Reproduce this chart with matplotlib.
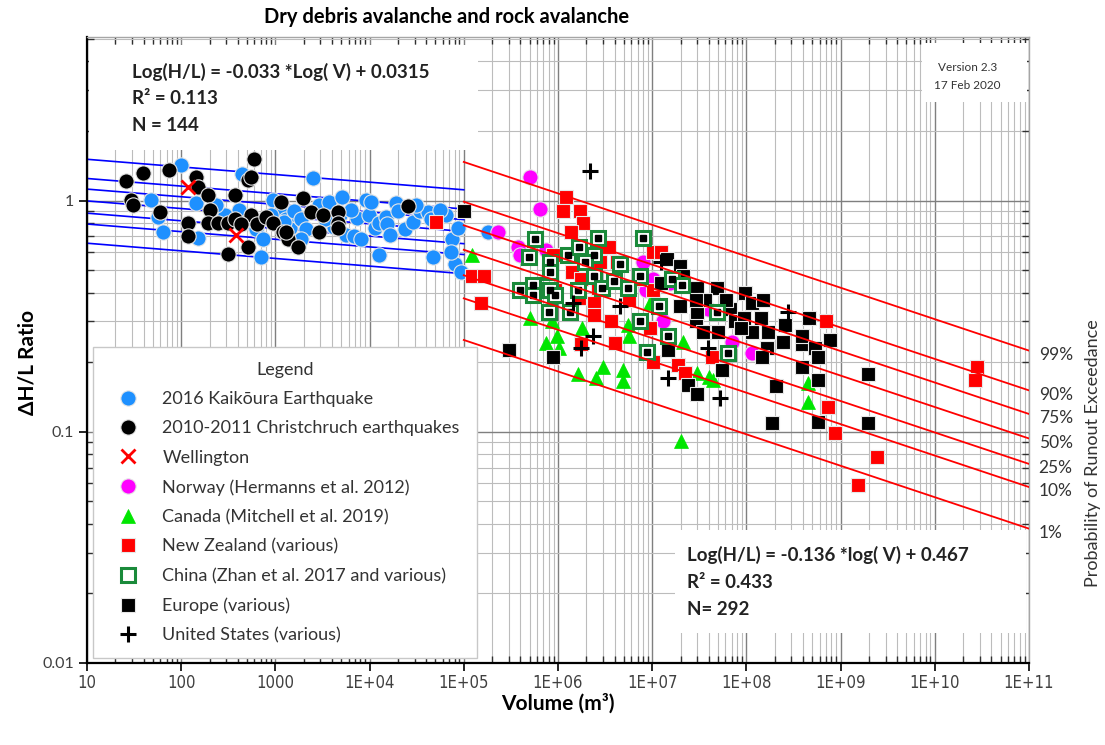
import numpy as np
import matplotlib
matplotlib.use('Agg')
import matplotlib.pyplot as plt
from matplotlib.patches import Rectangle
from matplotlib.ticker import LogLocator, NullFormatter

plt.rcParams['font.family'] = ['Lato', 'DejaVu Sans']

# log10 of volume (m3) and H/L ratio
kaikoura_logv = [1.68, 1.75, 1.81, 2.00, 2.16, 2.18, 2.65, 2.61, 2.69, 2.79, 2.85, 2.98, 3.06, 3.11, 3.16,
                 3.22, 3.09, 3.20, 3.27, 3.32, 3.40, 3.46, 3.57, 3.62, 3.71, 3.75, 3.83, 3.87, 3.91, 3.96,
                 3.99, 4.01, 4.06, 4.10, 4.10, 4.17, 4.19, 4.22, 4.28, 4.30, 4.38, 4.46, 4.54, 4.62, 4.65,
                 4.67, 4.81, 4.88, 4.91, 4.94, 4.97, 5.26, 2.87, 2.95, 2.47, 2.37, 3.27, 3.69, 3.80, 3.53,
                 4.49, 4.75, 4.86]
kaikoura_hl = [1.01, 0.85, 0.73, 1.43, 0.98, 0.69, 1.30, 0.91, 0.81, 0.75, 0.57, 1.01, 0.91, 0.83, 0.76,
               0.87, 0.81, 0.90, 0.83, 0.75, 1.25, 0.96, 0.99, 0.77, 1.04, 0.71, 0.70, 0.84, 0.68, 1.01,
               0.87, 0.99, 0.76, 0.80, 0.58, 0.85, 0.79, 0.71, 0.98, 0.90, 0.75, 0.81, 0.90, 0.89, 0.83,
               0.57, 0.87, 0.68, 0.53, 0.76, 0.49, 0.73, 0.68, 0.87, 0.87, 0.96, 0.68, 0.87, 0.91, 0.83,
               0.96, 0.91, 0.60]

christchurch_logv = [1.41, 1.60, 1.87, 1.47, 1.49, 1.78, 2.16, 2.18, 2.29, 2.31, 2.28, 2.39, 2.07, 2.07,
                     2.50, 2.57, 2.57, 2.50, 2.71, 2.77, 2.71, 2.74, 2.74, 2.81, 2.90, 2.97, 3.06, 3.08,
                     3.13, 3.24, 3.29, 3.38, 3.46, 3.51, 3.67, 3.67, 3.66, 4.41, 3.11, 2.63]
christchurch_hl = [1.21, 1.32, 1.35, 1.01, 0.96, 0.89, 1.27, 1.15, 1.06, 0.91, 0.80, 0.80, 0.80, 0.70,
                   0.80, 1.06, 0.83, 0.59, 0.63, 1.52, 1.23, 1.27, 0.87, 0.79, 0.85, 0.80, 0.99, 0.73,
                   0.68, 0.63, 1.03, 0.89, 0.73, 0.87, 0.89, 0.80, 0.76, 0.95, 0.73, 0.79]

wellington_logv = [2.07, 2.58]
wellington_hl = [1.14, 0.71]

norway_logv = [5.70, 5.81, 5.36, 5.58, 5.60, 5.87, 6.90, 7.01, 6.93, 7.19, 7.12, 7.59, 7.85, 8.06]
norway_hl = [1.27, 0.92, 0.73, 0.63, 0.58, 0.61, 0.54, 0.46, 0.41, 0.44, 0.30, 0.34, 0.245, 0.22]

canada_logv = [5.09, 5.70, 5.87, 5.99, 6.01, 6.21, 6.26, 6.40, 6.48, 6.69, 6.69, 6.75, 7.33, 7.48, 7.60,
               7.65, 8.65, 8.65, 6.98, 6.74, 7.31, 5.94]
canada_hl = [0.58, 0.31, 0.243, 0.26, 0.23, 0.177, 0.28, 0.171, 0.19, 0.185, 0.165, 0.26, 0.245, 0.18,
             0.173, 0.168, 0.163, 0.134, 0.36, 0.29, 0.091, 0.30]

nz_logv = [4.70, 5.09, 5.21, 5.18, 6.08, 6.05, 6.23, 6.27, 6.14, 5.95, 6.15, 6.24, 6.54, 7.01, 7.09,
           6.45, 6.63, 5.97, 6.22, 6.38, 6.38, 6.56, 6.61, 6.24, 6.98, 7.01, 7.27, 7.35, 7.01, 6.75,
           7.64, 8.84, 8.87, 8.94, 9.39, 9.18, 10.45, 10.43, 6.42, 6.87]
nz_hl = [0.81, 0.47, 0.47, 0.36, 1.04, 0.90, 0.90, 0.80, 0.73, 0.58, 0.49, 0.46, 0.63, 0.60, 0.60,
         0.54, 0.54, 0.41, 0.38, 0.36, 0.32, 0.30, 0.243, 0.24, 0.28, 0.20, 0.195, 0.18, 0.41, 0.37,
         0.21, 0.30, 0.128, 0.099, 0.078, 0.059, 0.19, 0.168, 0.42, 0.46]

china_logv = [5.76, 6.43, 6.90, 5.69, 6.11, 6.22, 6.38, 6.29, 6.66, 5.92, 5.92, 6.38, 6.87, 5.60, 5.74,
              5.92, 5.97, 6.21, 6.47, 6.59, 6.74, 7.21, 7.32, 7.07, 5.90, 6.13, 6.87, 7.17, 7.69, 6.95,
              7.81, 5.74]
china_hl = [0.68, 0.69, 0.69, 0.57, 0.58, 0.63, 0.58, 0.54, 0.53, 0.54, 0.49, 0.47, 0.47, 0.41, 0.43,
            0.41, 0.39, 0.41, 0.42, 0.45, 0.42, 0.46, 0.43, 0.35, 0.33, 0.33, 0.30, 0.26, 0.33, 0.222,
            0.22, 0.39]

europe_logv = [5.00, 5.48, 5.95, 7.16, 7.30, 7.33, 7.48, 7.69, 7.99, 8.06, 8.18, 8.66, 8.89, 7.09, 7.30,
               7.46, 7.48, 7.54, 7.83, 7.88, 7.70, 8.06, 8.23, 8.39, 8.59, 8.59, 8.73, 8.76, 7.97, 7.17,
               7.38, 7.48, 7.74, 8.31, 8.76, 8.59, 9.29, 8.27, 8.76, 9.29, 8.22, 8.17, 7.56, 7.78, 7.94,
               7.46, 8.15, 8.41]
europe_hl = [0.90, 0.226, 0.21, 0.56, 0.52, 0.47, 0.42, 0.42, 0.40, 0.36, 0.37, 0.31, 0.25, 0.44, 0.35,
             0.30, 0.33, 0.27, 0.34, 0.30, 0.27, 0.27, 0.27, 0.245, 0.24, 0.26, 0.23, 0.21, 0.31, 0.226,
             0.16, 0.145, 0.185, 0.157, 0.168, 0.19, 0.177, 0.109, 0.11, 0.109, 0.23, 0.21, 0.37, 0.37,
             0.28, 0.37, 0.31, 0.29]

us_logv = [6.34, 6.16, 6.37, 6.24, 6.66, 7.09, 7.17, 7.72, 7.59, 8.44]
us_hl = [1.34, 0.36, 0.26, 0.23, 0.35, 0.54, 0.171, 0.14, 0.23, 0.33]

# regression lines: log(H/L) = slope*log(V) + intercept, plus percentile offsets (log units)
left_slope, left_icpt = -0.033, 0.0315
left_offsets = [0.18, 0.097, 0.051, 0.0, -0.053, -0.10, -0.183]
right_slope, right_icpt = -0.136, 0.467
right_offsets = [0.38, 0.208, 0.106, 0.0, -0.11, -0.21, -0.39]
pct_labels = ['99%', '90%', '75%', '50%', '25%', '10%', '1%']

x_ticks = [1e1, 1e2, 1e3, 1e4, 1e5, 1e6, 1e7, 1e8, 1e9, 1e10, 1e11]
x_tick_labels = ['10', '100', '1000', '1E+04', '1E+05', '1E+06', '1E+07', '1E+08', '1E+09', '1E+10', '1E+11']
y_ticks = [0.01, 0.1, 1]
y_tick_labels = ['0.01', '0.1', '1']

fig = plt.figure(figsize=(11.05, 7.45), dpi=100)
ax = fig.add_axes([0.0787, 0.1101, 0.8525, 0.8403])
ax.set_xscale('log')
ax.set_yscale('log')
ax.set_axisbelow(True)

ax.set_xticks(x_ticks, labels=x_tick_labels, fontsize=12, color='#404040',
              family=['Liberation Sans Narrow', 'DejaVu Sans'], stretch='condensed')
ax.set_yticks(y_ticks, labels=y_tick_labels, fontsize=11.5, color='#404040')
ax.xaxis.set_minor_locator(LogLocator(base=10, subs=np.arange(2, 10), numticks=20))
ax.xaxis.set_minor_formatter(NullFormatter())
ax.yaxis.set_minor_locator(LogLocator(base=10, subs=np.arange(2, 10), numticks=20))
ax.yaxis.set_minor_formatter(NullFormatter())
ax.set_xlim(10, 1e11)
ax.set_ylim(0.01, 5.1)

ax.grid(which='major', color='#7f7f7f', lw=1.0)
ax.grid(which='minor', color='#bcbcbc', lw=0.8)
ax.tick_params(which='major', direction='out', length=6, width=1.2, color='black')
ax.tick_params(which='minor', direction='in', length=5, width=1.0, color='#303030',
               top=True, right=True)
ax.tick_params(axis='x', pad=2)

for side in ['left', 'bottom']:
    ax.spines[side].set_color('black')
    ax.spines[side].set_linewidth(1.6)
for side in ['top', 'right']:
    ax.spines[side].set_color('#a6a6a6')
    ax.spines[side].set_linewidth(1.0)

# white text boxes covering the grid
for (x0, y0, w, h) in [(0.002, 0.8195, 0.413, 0.168), (0.624, 0.048, 0.373, 0.165),
                       (0.886, 0.896, 0.112, 0.094)]:
    ax.add_patch(Rectangle((x0, y0), w, h, transform=ax.transAxes, fc='white', ec='none', zorder=1))

# fit lines
v_left = np.array([1e1, 1e5])
for off in left_offsets:
    ax.plot(v_left, 10 ** (left_slope * np.log10(v_left) + left_icpt + off), color='#0000ff', lw=1.2, zorder=2)
v_right = np.array([1e5, 1e11])
for off in right_offsets:
    ax.plot(v_right, 10 ** (right_slope * np.log10(v_right) + right_icpt + off), color='#ff0000', lw=1.3, zorder=9)

edge = '#e6e6e6'


def pts(logv):
    return 10 ** np.array(logv)


ax.plot(pts(kaikoura_logv), kaikoura_hl, ls='none', marker='o', ms=11, mfc='#1e90ff', mec=edge, mew=0.8,
        zorder=3, label='2016 Kaikōura Earthquake')
ax.plot(pts(christchurch_logv), christchurch_hl, ls='none', marker='o', ms=11, mfc='black', mec=edge, mew=0.8,
        zorder=4, label='2010-2011 Christchruch earthquakes')
ax.plot(pts(wellington_logv), wellington_hl, ls='none', marker='x', ms=10, mec='#ff0000', mew=2,
        zorder=5, label='Wellington')
ax.plot(pts(norway_logv), norway_hl, ls='none', marker='o', ms=11, mfc='#ff00ff', mec=edge, mew=0.8,
        zorder=3, label='Norway (Hermanns et al. 2012)')
ax.plot(pts(canada_logv), canada_hl, ls='none', marker='^', ms=9.5, mfc='#00e600', mec='#00e600', mew=0.5,
        zorder=4, label='Canada (Mitchell et al. 2019)')
ax.plot(pts(nz_logv), nz_hl, ls='none', marker='s', ms=10.5, mfc='#ff0000', mec=edge, mew=0.8,
        zorder=5, label='New Zealand (various)')
ax.plot(pts(china_logv), china_hl, ls='none', marker='s', ms=10, mfc='white', mec='#1a8a3a', mew=2.2,
        zorder=7, label='China (Zhan et al. 2017 and various)')
ax.plot(pts(china_logv), china_hl, ls='none', marker='s', ms=4.5, mfc='black', mec='black', zorder=7.5)
ax.plot(pts(europe_logv), europe_hl, ls='none', marker='s', ms=10.5, mfc='black', mec=edge, mew=0.8,
        zorder=6, label='Europe (various)')
ax.plot(pts(us_logv), us_hl, ls='none', marker='+', ms=12, mec='black', mew=2.2,
        zorder=8, label='United States (various)')

leg = ax.legend(loc='lower left', bbox_to_anchor=(0.0064, 0.008, 0.408, 0.5), mode='expand',
                title='Legend', fontsize=13, title_fontsize=13, frameon=True, fancybox=False,
                edgecolor='#c8c8c8', framealpha=1, borderpad=0.8, labelspacing=0.74,
                handlelength=2.3, handletextpad=0.74, borderaxespad=0)
leg.get_frame().set_linewidth(1.0)
leg.set_zorder(20)
for t in leg.get_texts():
    t.set_color('#333333')
leg.get_title().set_color('#333333')

# equations
eq_style = dict(transform=ax.transAxes, fontsize=13.5, fontweight='bold', color='#222222', va='center', zorder=12)
ax.text(0.0478, 0.944, 'Log(H/L) = -0.033 *Log( V) + 0.0315', **eq_style)
ax.text(0.0478, 0.901, 'R² = 0.113', **eq_style)
ax.text(0.0478, 0.858, 'N = 144', **eq_style)
ax.text(0.637, 0.1725, 'Log(H/L) = -0.136 *log( V) + 0.467', **eq_style)
ax.text(0.637, 0.128, 'R² = 0.433', **eq_style)
ax.text(0.637, 0.0847, 'N= 292', **eq_style)

ax.text(0.935, 0.952, 'Version 2.3', transform=ax.transAxes, fontsize=8.5, ha='center', va='center',
        color='#333333', zorder=12)
ax.text(0.935, 0.922, '17 Feb 2020', transform=ax.transAxes, fontsize=8.5, ha='center', va='center',
        color='#333333', zorder=12)

# percentile labels at the right end of the red lines
for off, lab in zip(right_offsets, pct_labels):
    y_end = 10 ** (right_slope * 11 + right_icpt + off)
    ax.annotate(lab, xy=(1e11, y_end), xytext=(7, -3), textcoords='offset points', ha='left', va='center',
                fontsize=12.5, color='#333333', annotation_clip=False)

fig.text(0.989, 0.392, 'Probability of Runout Exceedance', rotation=90, ha='center', va='center',
         fontsize=13, color='#333333')

fig.text(0.404, 0.977, 'Dry debris avalanche and rock avalanche', ha='center', va='center',
         fontsize=14.5, fontweight='bold', color='black')
ax.set_xlabel('Volume (m³)', fontsize=15, fontweight='bold', labelpad=1)
ax.set_ylabel('ΔH/L Ratio', fontsize=15, fontweight='bold')
ax.yaxis.set_label_coords(-0.052, 0.48)

fig.savefig('out.png', dpi=100)
